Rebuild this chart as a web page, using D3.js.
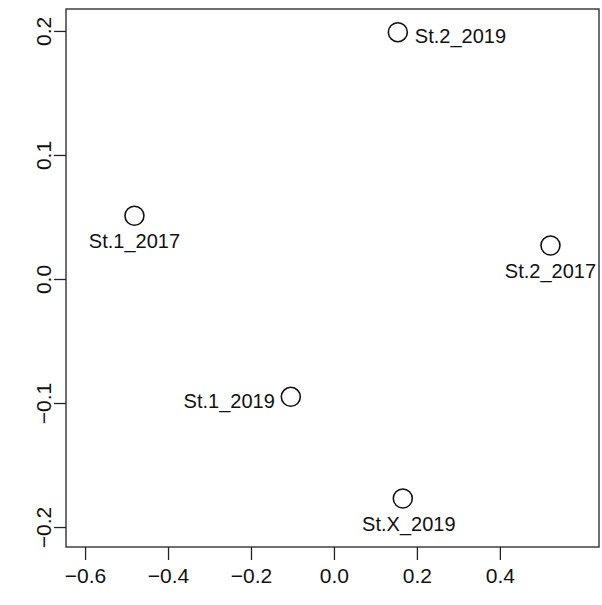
<!DOCTYPE html>
<html>
<head>
<meta charset="utf-8">
<script src="https://cdn.jsdelivr.net/npm/d3@7"></script>
<style>
  html, body { margin: 0; padding: 0; background: #fff; }
  svg { display: block; }
  text { font-family: "Liberation Sans", Arial, sans-serif; fill: #111; }
</style>
</head>
<body>
<svg id="chart" width="602" height="605"></svg>
<script>
// ---- data ----
const labels  = ["St.1_2017", "St.2_2017", "St.2_2019", "St.1_2019", "St.X_2019"];
const xValues = [-0.481, 0.522, 0.154, -0.104, 0.166];
const yValues = [0.051, 0.027, 0.199, -0.095, -0.177];
const xTicks  = [-0.6, -0.4, -0.2, 0.0, 0.2, 0.4];
const yTicks  = [-0.2, -0.1, 0.0, 0.1, 0.2];
// label placement, R-style pos: 1 below, 2 left, 4 right
const labelPos = [1, 1, 4, 2, 1];

const svg = d3.select("#chart");
const box = { left: 66, right: 599, top: 9, bottom: 547 };

const x = d3.scaleLinear().domain([-0.646, 0.639]).range([box.left, box.right]);
const y = d3.scaleLinear().domain([-0.2161, 0.2177]).range([box.bottom, box.top]);

const fmt = d3.format(".1f");
const minus = s => s.replace("-", "\u2212");
const FONT = '"Liberation Sans", Arial, sans-serif';

// frame
svg.append("rect")
  .attr("x", box.left).attr("y", box.top)
  .attr("width", box.right - box.left).attr("height", box.bottom - box.top)
  .attr("fill", "none").attr("stroke", "#222").attr("stroke-width", 1.3);

// x axis
const xAxis = d3.axisBottom(x).tickValues(xTicks).tickSize(13).tickPadding(8)
  .tickFormat(d => minus(fmt(d)));
const gx = svg.append("g").attr("transform", `translate(0,${box.bottom})`).call(xAxis);
gx.select(".domain").remove();
gx.selectAll(".tick line").attr("stroke", "#222").attr("stroke-width", 1.3);
gx.selectAll(".tick text").attr("font-size", 21).attr("fill", "#111")
  .attr("font-family", FONT);

// y axis
const yAxis = d3.axisLeft(y).tickValues(yTicks).tickSize(12).tickPadding(10)
  .tickFormat(d => minus(fmt(d)));
const gy = svg.append("g").attr("transform", `translate(${box.left},0)`).call(yAxis);
gy.select(".domain").remove();
gy.selectAll(".tick line").attr("stroke", "#222").attr("stroke-width", 1.3);
gy.selectAll(".tick text")
  .attr("font-size", 21).attr("fill", "#111")
  .attr("font-family", FONT)
  .attr("text-anchor", "middle")
  .attr("x", null).attr("dy", null)
  .attr("transform", "translate(-15,0) rotate(-90)")
  .attr("y", 0);

// points
const pts = labels.map((l, i) => ({ label: l, x: xValues[i], y: yValues[i], pos: labelPos[i] }));

svg.append("g").selectAll("circle").data(pts).join("circle")
  .attr("cx", d => x(d.x)).attr("cy", d => y(d.y)).attr("r", 9.5)
  .attr("fill", "none").attr("stroke", "#111").attr("stroke-width", 1.6);

svg.append("g").selectAll("text").data(pts).join("text")
  .attr("font-size", 20)
  .attr("x", d => x(d.x) + (d.pos === 4 ? 17 : d.pos === 2 ? -16 : (d.label === "St.X_2019" ? 6 : 0)))
  .attr("y", d => y(d.y) + (d.pos === 1 ? 25 : 4))
  .attr("dy", "0.35em")
  .attr("text-anchor", d => d.pos === 4 ? "start" : d.pos === 2 ? "end" : "middle")
  .text(d => d.label);
</script>
</body>
</html>
